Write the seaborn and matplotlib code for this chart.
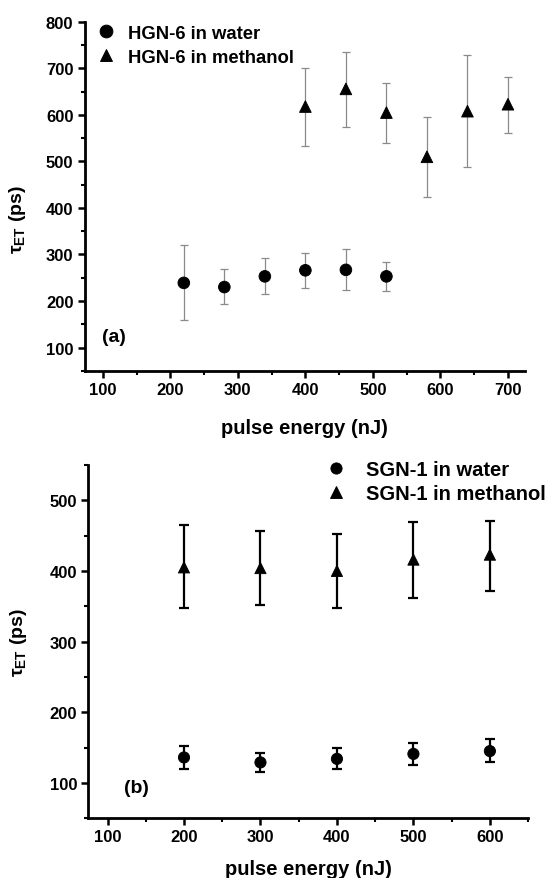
import numpy as np
import pandas as pd
import seaborn as sns
import matplotlib.pyplot as plt
from matplotlib.ticker import MultipleLocator

# panel (a): HGN-6
a_water_x = [220, 280, 340, 400, 460, 520]
a_water_y = [239, 230, 253, 266, 267, 253]
a_water_lo = [159, 194, 215, 228, 223, 222]
a_water_hi = [320, 268, 292, 304, 312, 284]

a_meth_x = [400, 460, 520, 580, 640, 700]
a_meth_y = [618, 656, 605, 510, 608, 623]
a_meth_lo = [534, 573, 539, 424, 487, 562]
a_meth_hi = [701, 736, 669, 596, 729, 682]

# panel (b): SGN-1
b_water_x = [200, 300, 400, 500, 600]
b_water_y = [136, 129, 134, 141, 145]
b_water_lo = [120, 115, 119, 125, 129]
b_water_hi = [152, 143, 149, 157, 162]

b_meth_x = [200, 300, 400, 500, 600]
b_meth_y = [405, 404, 400, 416, 423]
b_meth_lo = [347, 352, 348, 361, 372]
b_meth_hi = [465, 456, 452, 469, 471]

sns.set_style("ticks")
plt.rcParams['font.family'] = ['Liberation Sans', 'DejaVu Sans']
plt.rcParams['font.weight'] = 'bold'
plt.rcParams['axes.labelweight'] = 'bold'
plt.rcParams['text.color'] = 'black'
plt.rcParams['axes.labelcolor'] = 'black'
plt.rcParams['xtick.color'] = 'black'
plt.rcParams['ytick.color'] = 'black'
plt.rcParams['mathtext.fontset'] = 'custom'
plt.rcParams['mathtext.rm'] = 'Liberation Sans:bold'
plt.rcParams['mathtext.it'] = 'Liberation Sans:bold'
plt.rcParams['mathtext.bf'] = 'Liberation Sans:bold'

fig = plt.figure(figsize=(5.49, 8.79), dpi=100)
ax1 = fig.add_axes([0.154, 0.577, 0.802, 0.397])
ax2 = fig.add_axes([0.161, 0.068, 0.801, 0.402])


def panel(ax, wx, wy, wlo, whi, mx, my, mlo, mhi, names, ecolor, elw, cap, msize):
    df = pd.DataFrame({
        'x': wx + mx,
        'y': wy + my,
        'lo': wlo + mlo,
        'hi': whi + mhi,
        'sample': [names[0]] * len(wx) + [names[1]] * len(mx),
    })
    for name, g in df.groupby('sample', sort=False):
        err = [g['y'] - g['lo'], g['hi'] - g['y']]
        ax.errorbar(g['x'], g['y'], yerr=err, fmt='none', ecolor=ecolor,
                    elinewidth=elw, capsize=cap, capthick=elw, zorder=1)
    sns.scatterplot(data=df, x='x', y='y', style='sample', markers=['o', '^'],
                    color='black', s=msize, edgecolor='black', ax=ax, zorder=3)


panel(ax1, a_water_x, a_water_y, a_water_lo, a_water_hi,
      a_meth_x, a_meth_y, a_meth_lo, a_meth_hi,
      ['HGN-6 in water', 'HGN-6 in methanol'], '#8a8a8a', 0.9, 3.0, 70)
panel(ax2, b_water_x, b_water_y, b_water_lo, b_water_hi,
      b_meth_x, b_meth_y, b_meth_lo, b_meth_hi,
      ['SGN-1 in water', 'SGN-1 in methanol'], 'black', 1.6, 3.3, 65)

ax1.set_xlim(73, 725)
ax1.set_ylim(50, 800)
ax2.set_xlim(75, 650)

for ax in (ax1, ax2):
    ax.xaxis.set_major_locator(MultipleLocator(100))
    ax.xaxis.set_minor_locator(MultipleLocator(50))
    ax.yaxis.set_major_locator(MultipleLocator(100))
    ax.yaxis.set_minor_locator(MultipleLocator(50))
    sns.despine(ax=ax)
    for s in ('left', 'bottom'):
        ax.spines[s].set_linewidth(2.0)
        ax.spines[s].set_color('black')
    ax.tick_params(which='major', length=5, width=1.8, labelsize=12, colors='black', pad=3)
    ax.tick_params(which='minor', length=3, width=1.5)
    for lab in ax.get_xticklabels() + ax.get_yticklabels():
        lab.set_fontweight('bold')
    ax.set_xlabel('pulse energy (nJ)', fontsize=14.5, color='black')
    ax.set_ylabel(r'$\tau_{ET}$ (ps)', fontsize=14, color='black')

ax2.set_ylim(50, 550)

ax1.xaxis.set_label_coords(0.5, -0.135)
ax2.xaxis.set_label_coords(0.5, -0.115)
ax1.yaxis.set_label_coords(-0.128, 0.435)
ax2.yaxis.set_label_coords(-0.135, 0.5)

ax1.legend(loc='upper left', bbox_to_anchor=(-0.02, 1.04), frameon=False,
           prop={'size': 13.3, 'weight': 'bold'}, handletextpad=0.45,
           handlelength=1.5, labelspacing=0.38, markerscale=1.1)
ax2.legend(loc='upper left', bbox_to_anchor=(0.475, 1.065), frameon=False,
           prop={'size': 14.5, 'weight': 'bold'}, handletextpad=0.5,
           handlelength=2.0, labelspacing=0.25, markerscale=1.0)

ax1.text(0.04, 0.097, '(a)', transform=ax1.transAxes, fontsize=14,
         fontweight='bold', va='center')
ax2.text(0.081, 0.088, '(b)', transform=ax2.transAxes, fontsize=14,
         fontweight='bold', va='center')

fig.savefig('out.png', dpi=100)
